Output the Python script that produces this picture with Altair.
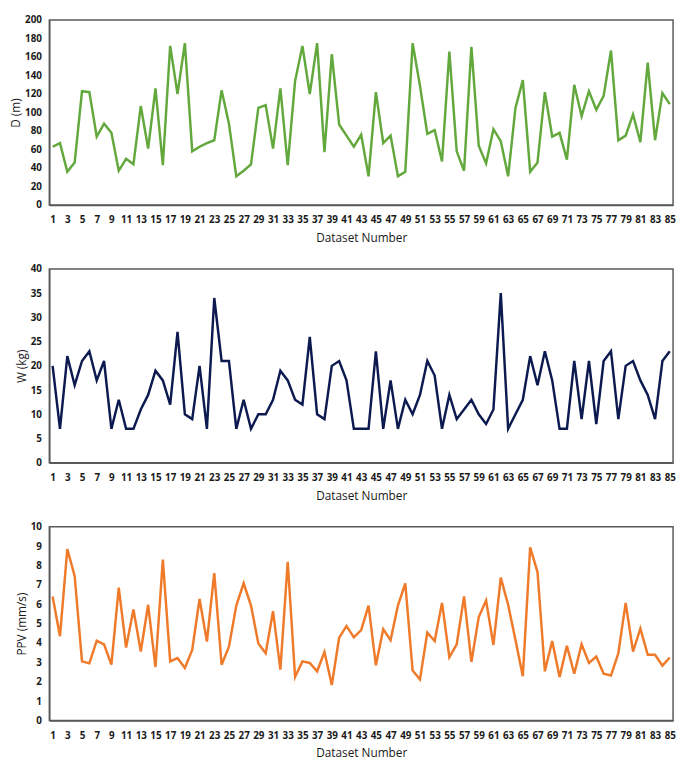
import altair as alt
import pandas as pd

dataset = list(range(1, 86))

D_m = [63, 67, 36, 46, 123, 122, 74, 88, 78, 37,
       50, 44, 107, 61, 126, 43, 172, 120, 175, 58,
       63, 67, 70, 124, 88, 31, 37, 44, 105, 108,
       61, 126, 43, 134, 172, 120, 175, 57, 163, 87,
       75, 63, 76, 31, 122, 67, 75, 31, 36, 175,
       129, 77, 81, 47, 166, 58, 37, 171, 64, 45,
       82, 69, 31, 105, 135, 36, 46, 122, 74, 78,
       49, 130, 96, 123, 103, 118, 167, 70, 75, 98,
       68, 154, 70, 121, 109]

W_kg = [20, 7, 22, 16, 21, 23, 17, 21, 7, 13,
        7, 7, 11, 14, 19, 17, 12, 27, 10, 9,
        20, 7, 34, 21, 21, 7, 13, 7, 10, 10,
        13, 19, 17, 13, 12, 26, 10, 9, 20, 21,
        17, 7, 7, 7, 23, 7, 17, 7, 13, 10,
        14, 21, 18, 7, 14, 9, 11, 13, 10, 8,
        11, 35, 7, 10, 13, 22, 16, 23, 17, 7,
        7, 21, 9, 21, 8, 21, 23, 9, 20, 21,
        17, 14, 9, 21, 23]

PPV = [6.40, 4.35, 8.85, 7.45, 3.05, 2.95, 4.12, 3.93, 2.88, 6.86,
       3.76, 5.73, 3.56, 5.97, 2.76, 8.30, 3.05, 3.22, 2.71, 3.64,
       6.27, 4.07, 7.60, 2.88, 3.81, 5.93, 7.08, 5.93, 3.98, 3.47,
       5.64, 2.63, 8.19, 2.25, 3.05, 2.97, 2.54, 3.53, 1.83, 4.27,
       4.88, 4.29, 4.66, 5.93, 2.85, 4.71, 4.15, 5.93, 7.08, 2.58,
       2.12, 4.54, 4.10, 6.07, 3.27, 3.93, 6.40, 3.02, 5.34, 6.19,
       3.90, 7.37, 5.97, 4.15, 2.29, 8.93, 7.66, 2.54, 4.10, 2.24,
       3.85, 2.41, 3.93, 2.97, 3.30, 2.42, 2.32, 3.47, 6.07, 3.56,
       4.75, 3.39, 3.39, 2.83, 3.25]

x_ticks = list(range(1, 86, 2))

FONT = "Open Sans"


def panel(values, color, title, ymax, step, width, height):
    df = pd.DataFrame({"n": dataset, "v": values})
    return (
        alt.Chart(df)
        .mark_line(color=color, strokeWidth=2.5)
        .encode(
            x=alt.X(
                "n:Q",
                scale=alt.Scale(domain=[0.55, 85.45], nice=False, zero=False),
                axis=alt.Axis(
                    values=x_ticks,
                    title="Dataset Number",
                    grid=False,
                    ticks=False,
                    tickSize=0,
                    labelPadding=10,
                    labelFlush=False,
                    labelOverlap=False,
                    titlePadding=8,
                ),
            ),
            y=alt.Y(
                "v:Q",
                scale=alt.Scale(domain=[0, ymax], nice=False),
                axis=alt.Axis(
                    values=list(range(0, ymax + 1, step)),
                    title=title,
                    grid=False,
                    ticks=False,
                    tickSize=0,
                    labelPadding=8,
                    titlePadding=2,
                ),
            ),
        )
        .properties(width=width, height=height)
    )


p1 = panel(D_m, "#62a83c", "D (m)", 200, 20, 634, 188)
p2 = panel(W_kg, "#0c1a4f", "W (kg)", 40, 5, 634, 197)
p3 = panel(PPV, "#ef7a2a", "PPV (mm/s)", 10, 1, 634, 197)

chart = (
    alt.vconcat(p1, p2, p3, spacing=19)
    .properties(padding={"left": 1, "top": 0, "right": 0, "bottom": 0})
    .configure_view(stroke="#595959", strokeWidth=1.5)
    .configure_axis(
        domainColor="#595959",
        domainWidth=1.5,
        labelFont=FONT,
        labelFontSize=10,
        labelFontWeight="bold",
        labelColor="#1a1a1a",
        titleFont=FONT,
        titleFontSize=12,
        titleFontWeight="normal",
        titleColor="#1a1a1a",
    )
)

chart.save("out.html", embed_options={"renderer": "svg", "actions": False})
